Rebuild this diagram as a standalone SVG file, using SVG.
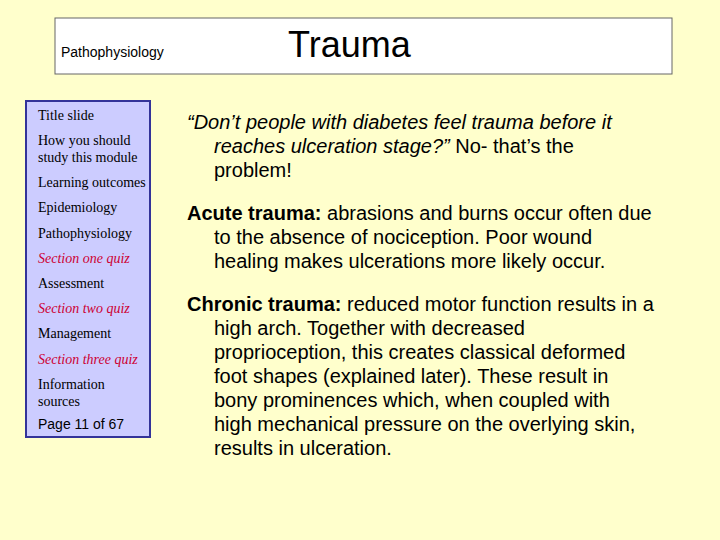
<svg xmlns="http://www.w3.org/2000/svg" width="720" height="540" viewBox="0 0 720 540">
<style>
.nav{font-family:"Liberation Serif",serif;font-size:14px;fill:#000}
.q{fill:#CC0033;font-style:italic}
.b{font-family:"Liberation Sans",Arial,sans-serif;font-size:20px;fill:#000}
</style>
<rect width="720" height="540" fill="#FFFFCC"/>
<rect x="55" y="18" width="617" height="56" fill="#fff" stroke="#666" stroke-width="1"/>
<text x="61" y="57" font-family="Liberation Sans,sans-serif" font-size="14">Pathophysiology</text>
<text x="288" y="57" font-family="Liberation Sans,sans-serif" font-size="36">Trauma</text>
<rect x="26" y="101" width="124" height="336" fill="#CCCCFF" stroke="#333399" stroke-width="2"/>
<text class="nav" x="38" y="120">Title slide</text>
<text class="nav" x="38" y="145">How you should</text>
<text class="nav" x="38" y="162">study this module</text>
<text class="nav" x="38" y="187">Learning outcomes</text>
<text class="nav" x="38" y="212">Epidemiology</text>
<text class="nav" x="38" y="238">Pathophysiology</text>
<text class="nav q" x="38" y="263">Section one quiz</text>
<text class="nav" x="38" y="288">Assessment</text>
<text class="nav q" x="38" y="313">Section two quiz</text>
<text class="nav" x="38" y="338">Management</text>
<text class="nav q" x="38" y="364">Section three quiz</text>
<text class="nav" x="38" y="389">Information</text>
<text class="nav" x="38" y="406">sources</text>
<text x="38" y="429" font-family="Liberation Sans,sans-serif" font-size="14">Page 11 of 67</text>
<text class="b" x="187" y="129"><tspan font-style="italic">“Don’t people with diabetes feel trauma before it</tspan></text>
<text class="b" x="214" y="153"><tspan font-style="italic">reaches ulceration stage?”</tspan> No- that’s the</text>
<text class="b" x="214" y="177">problem!</text>
<text class="b" x="187" y="220"><tspan font-weight="bold">Acute trauma:</tspan> abrasions and burns occur often due</text>
<text class="b" x="214" y="244">to the absence of nociception. Poor wound</text>
<text class="b" x="214" y="268">healing makes ulcerations more likely occur.</text>
<text class="b" x="187" y="311"><tspan font-weight="bold">Chronic trauma:</tspan> reduced motor function results in a</text>
<text class="b" x="214" y="335">high arch. Together with decreased</text>
<text class="b" x="214" y="359">proprioception, this creates classical deformed</text>
<text class="b" x="214" y="383">foot shapes (explained later). These result in</text>
<text class="b" x="214" y="407">bony prominences which, when coupled with</text>
<text class="b" x="214" y="431">high mechanical pressure on the overlying skin,</text>
<text class="b" x="214" y="455">results in ulceration.</text>
</svg>
